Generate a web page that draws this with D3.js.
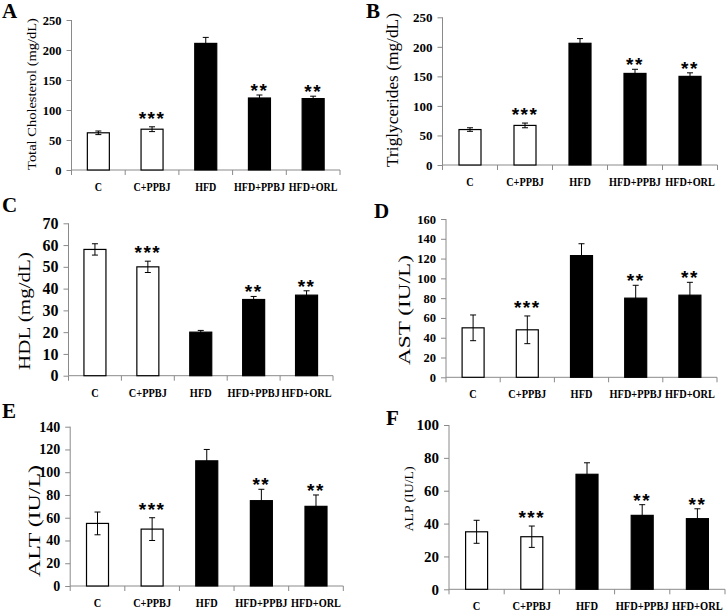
<!DOCTYPE html>
<html><head><meta charset="utf-8">
<script src="https://cdn.jsdelivr.net/npm/d3@7"></script>
<style>body{margin:0;background:#fff}svg{display:block}</style>
</head><body>
<svg id="c" width="727" height="613"></svg>
<script>
// ---- data ----
const categories = ["C", "C+PPBJ", "HFD", "HFD+PPBJ", "HFD+ORL"];
const stars = ["", "***", "", "**", "**"];
const tcMean = [62, 68, 211, 120, 119];
const tcErr = [3, 4, 10, 5, 4];
const tgMean = [60, 67, 206, 155, 150];
const tgErr = [3, 4, 8, 7, 6];
const hdlMean = [58, 50, 20, 35, 37];
const hdlErr = [2.6, 2.6, 0.8, 1.4, 2];
const astMean = [50, 48, 123, 80, 83];
const astErr = [13, 14, 12, 13, 13];
const altMean = [55, 50, 110, 75, 70];
const altErr = [10, 10, 10, 10, 10];
const alpMean = [35, 32, 70, 45, 43];
const alpErr = [7, 6.5, 7, 6.5, 6];
const tcTicks = [0, 50, 100, 150, 200, 250];
const tgTicks = [0, 50, 100, 150, 200, 250];
const hdlTicks = [0, 10, 20, 30, 40, 50, 60, 70];
const astTicks = [0, 20, 40, 60, 80, 100, 120, 140, 160];
const altTicks = [0, 20, 40, 60, 80, 100, 120, 140];
const alpTicks = [0, 20, 40, 60, 80, 100];
const panelLetters = ["A", "B", "C", "D", "E", "F"];
const yTitles = ["Total Cholesterol (mg/dL)", "Triglycerides (mg/dL)", "HDL (mg/dL)", "AST (IU/L)", "ALT (IU/L)", "ALP (IU/L)"];

// ---- layout (positions & styles) ----
const panels = [
  {mean: tcMean, err: tcErr, ticks: tcTicks, x0: 71.5, x1: 340, yT: 20, yB: 170, tickFs: 12.5, catFs: 11.7,
   title: {cx: 32, cy: 94, fs: 13.5, len: 152}, letter: {x: 2, y: 18}},
  {mean: tgMean, err: tgErr, ticks: tgTicks, x0: 442.5, x1: 717.5, yT: 17.3, yB: 165, tickFs: 13, catFs: 11.9,
   title: {cx: 393, cy: 90, fs: 17, len: 154}, letter: {x: 366, y: 18}},
  {mean: hdlMean, err: hdlErr, ticks: hdlTicks, x0: 68.5, x1: 333, yT: 223.3, yB: 375.7, tickFs: 16, catFs: 12.0,
   title: {cx: 24.5, cy: 311, fs: 17, len: 118}, letter: {x: 2, y: 212}},
  {mean: astMean, err: astErr, ticks: astTicks, x0: 446, x1: 717, yT: 219, yB: 377.3, tickFs: 12.5, catFs: 12.0,
   title: {cx: 404, cy: 310, fs: 17, len: 110}, letter: {x: 374, y: 218}},
  {mean: altMean, err: altErr, ticks: altTicks, x0: 70.2, x1: 343.3, yT: 426.7, yB: 586, tickFs: 14, catFs: 12.0,
   title: {cx: 34.5, cy: 521, fs: 17, len: 112}, letter: {x: 2, y: 418}},
  {mean: alpMean, err: alpErr, ticks: alpTicks, x0: 449, x1: 725, yT: 425, yB: 589.3, tickFs: 15, catFs: 12.2,
   title: {cx: 409, cy: 499, fs: 13, len: 65}, letter: {x: 386, y: 425}}
];

const svg = d3.select("#c");
const axisColor = "#8a8a8a";
const serif = "'Liberation Serif','Times New Roman',serif";

panels.forEach((p, i) => {
  const g = svg.append("g");
  const yMax = p.ticks[p.ticks.length - 1];
  const x = d3.scaleBand().domain(categories).range([p.x0, p.x1]).padding(0);
  const y = d3.scaleLinear().domain([0, yMax]).range([p.yB, p.yT]);
  const barW = 22;

  // y axis
  const ya = g.append("g").attr("transform", `translate(${p.x0},0)`)
    .call(d3.axisLeft(y).tickValues(p.ticks).tickSize(5).tickPadding(5).tickFormat(d3.format("d")));
  ya.select(".domain").attr("stroke", axisColor).attr("d", `M0,${p.yB}V${p.yT}`);
  ya.selectAll(".tick line").attr("stroke", axisColor);
  ya.selectAll(".tick text").attr("fill", "#000").style("font-family", serif)
    .style("font-weight", "bold").style("font-size", p.tickFs + "px");

  // x axis line with boundary ticks
  g.append("line").attr("x1", p.x0).attr("x2", p.x1).attr("y1", p.yB).attr("y2", p.yB)
    .attr("stroke", axisColor);
  const bounds = categories.map(c => x(c)).concat([x(categories[categories.length - 1]) + x.bandwidth()]);
  g.selectAll("line.bt").data(bounds).join("line").attr("class", "bt")
    .attr("x1", d => d).attr("x2", d => d).attr("y1", p.yB).attr("y2", p.yB + 5)
    .attr("stroke", axisColor);

  // category labels (slightly condensed, as in the original)
  g.selectAll("text.cat").data(categories).join("text").attr("class", "cat")
    .attr("transform", d => `translate(${x(d) + x.bandwidth() / 2},${p.yB + 21}) scale(0.86,1)`)
    .attr("text-anchor", "middle").style("font-family", serif).style("font-weight", "bold")
    .style("font-size", p.catFs + "px").text(d => d);

  // bars
  const rows = categories.map((c, k) => ({c, m: p.mean[k], e: p.err[k], s: stars[k], k}));
  g.selectAll("rect.bar").data(rows).join("rect").attr("class", "bar")
    .attr("x", d => x(d.c) + x.bandwidth() / 2 - barW / 2).attr("width", barW)
    .attr("y", d => y(d.m)).attr("height", d => p.yB - y(d.m))
    .attr("fill", d => d.k < 2 ? "#fff" : "#000").attr("stroke", "#000").attr("stroke-width", 1.2);

  // error bars
  const eb = g.selectAll("g.eb").data(rows).join("g").attr("class", "eb")
    .attr("transform", d => `translate(${x(d.c) + x.bandwidth() / 2},0)`);
  eb.append("line").attr("y1", d => y(d.m - d.e)).attr("y2", d => y(d.m + d.e))
    .attr("stroke", "#000").attr("stroke-width", 1);
  eb.append("line").attr("x1", -3).attr("x2", 3).attr("y1", d => y(d.m + d.e)).attr("y2", d => y(d.m + d.e))
    .attr("stroke", "#000").attr("stroke-width", 1);
  eb.append("line").attr("x1", -3).attr("x2", 3).attr("y1", d => y(d.m - d.e)).attr("y2", d => y(d.m - d.e))
    .attr("stroke", "#000").attr("stroke-width", 1);

  // significance stars
  g.selectAll("text.st").data(rows.filter(d => d.s)).join("text").attr("class", "st")
    .attr("x", d => x(d.c) + x.bandwidth() / 2)
    .attr("y", d => y(d.m + d.e) - (d.s.length === 3 ? 12 : 8) + 10)
    .attr("text-anchor", "middle").style("font-family", "'Liberation Sans',Arial,sans-serif")
    .style("font-weight", "bold").style("font-size", "19px").style("letter-spacing", "1.5px")
    .text(d => d.s);

  // y title: glyphs stretched along the text direction to the measured length
  const t = g.append("text")
    .attr("text-anchor", "middle").attr("dominant-baseline", "central")
    .style("font-family", serif).style("font-size", p.title.fs + "px").text(yTitles[i]);
  const natural = t.node().getComputedTextLength() || p.title.len;
  const sx = p.title.len / natural;
  t.attr("transform", `translate(${p.title.cx},${p.title.cy}) rotate(-90) scale(${sx},1)`);

  // panel letter
  g.append("text").attr("x", p.letter.x).attr("y", p.letter.y)
    .style("font-family", serif).style("font-weight", "bold").style("font-size", "21px")
    .text(panelLetters[i]);
});
</script>
</body></html>
